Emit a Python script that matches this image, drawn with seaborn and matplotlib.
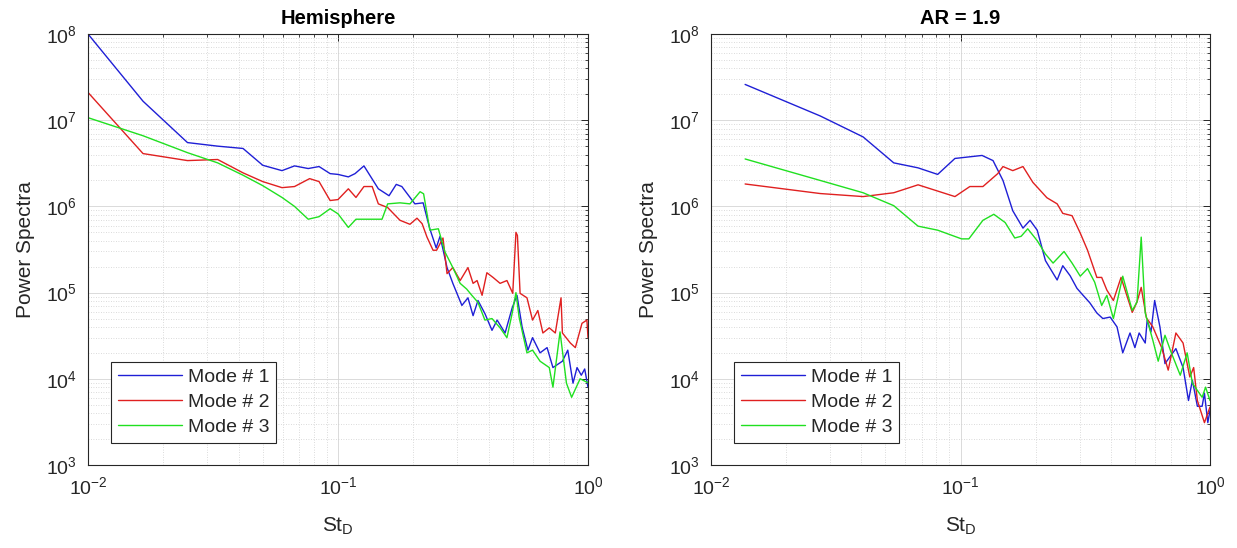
import numpy as np
import pandas as pd
import matplotlib
matplotlib.use("Agg")
import matplotlib.pyplot as plt
import seaborn as sns
from matplotlib.ticker import LogLocator, LogFormatterSciNotation, NullFormatter

# ---------------- data ----------------
titles = ["Hemisphere", "AR = 1.9"]
modes = ["Mode # 1", "Mode # 2", "Mode # 3"]
xlabel = "St$_{\\mathrm{D}}$"
ylabel = "Power Spectra"

# Hemisphere
hemi_m1_x = [0.01, 0.0166, 0.025, 0.033, 0.0417, 0.05, 0.0597, 0.067, 0.076, 0.084, 0.093, 0.1, 0.11, 0.117,
             0.127, 0.145, 0.16, 0.171, 0.18, 0.203, 0.219, 0.233, 0.247, 0.256, 0.273, 0.288, 0.313, 0.331,
             0.347, 0.363, 0.387, 0.413, 0.433, 0.466, 0.497, 0.52, 0.545, 0.575, 0.60, 0.643, 0.686, 0.724,
             0.79, 0.83, 0.871, 0.904, 0.94, 0.97, 1.0]
hemi_m1_y = [1.0e8, 1.66e7, 5.5e6, 5.0e6, 4.7e6, 3.0e6, 2.6e6, 2.95e6, 2.75e6, 2.9e6, 2.4e6, 2.35e6, 2.2e6, 2.4e6,
             2.95e6, 1.6e6, 1.33e6, 1.8e6, 1.7e6, 1.07e6, 1.1e6, 5.5e5, 3.3e5, 4.5e5, 1.95e5, 1.28e5, 7.1e4, 8.7e4,
             5.4e4, 8.1e4, 5.7e4, 3.65e4, 4.8e4, 3.4e4, 6.6e4, 9.3e4, 4.0e4, 2.15e4, 3.0e4, 2.0e4, 2.3e4, 1.35e4,
             1.6e4, 2.15e4, 8.9e3, 1.35e4, 1.1e4, 1.3e4, 8.0e3]

hemi_m2_x = [0.01, 0.0166, 0.025, 0.033, 0.0417, 0.05, 0.0597, 0.067, 0.077, 0.084, 0.093, 0.1, 0.11, 0.118,
             0.127, 0.137, 0.145, 0.158, 0.177, 0.194, 0.207, 0.217, 0.227, 0.24, 0.248, 0.263, 0.273, 0.288,
             0.308, 0.331, 0.347, 0.36, 0.377, 0.394, 0.417, 0.445, 0.474, 0.5, 0.515, 0.522, 0.535, 0.57,
             0.60, 0.63, 0.66, 0.70, 0.74, 0.78, 0.79, 0.85, 0.89, 0.946, 0.99, 1.0]
hemi_m2_y = [2.1e7, 4.1e6, 3.4e6, 3.5e6, 2.45e6, 1.94e6, 1.65e6, 1.7e6, 2.1e6, 1.94e6, 1.17e6, 1.2e6, 1.6e6, 1.27e6,
             1.7e6, 1.7e6, 1.07e6, 9.7e5, 6.9e5, 6.2e5, 7.3e5, 6.3e5, 4.4e5, 3.1e5, 3.1e5, 4.3e5, 1.66e5, 1.95e5,
             1.38e5, 1.95e5, 1.28e5, 1.38e5, 9.3e4, 1.7e5, 1.5e5, 1.28e5, 1.38e5, 9.8e4, 5.0e5, 4.6e5, 9.8e4, 8.7e4,
             4.8e4, 6.2e4, 3.4e4, 3.9e4, 3.4e4, 8.7e4, 3.4e4, 2.6e4, 2.3e4, 4.4e4, 4.8e4, 3.0e4]

hemi_m3_x = [0.01, 0.0166, 0.025, 0.033, 0.0417, 0.05, 0.0597, 0.067, 0.076, 0.084, 0.093, 0.1, 0.11, 0.118,
             0.137, 0.15, 0.158, 0.177, 0.194, 0.213, 0.22, 0.233, 0.252, 0.268, 0.288, 0.308, 0.327, 0.343,
             0.363, 0.387, 0.413, 0.445, 0.474, 0.497, 0.515, 0.53, 0.57, 0.60, 0.643, 0.70, 0.724, 0.773,
             0.82, 0.86, 0.93, 1.0]
hemi_m3_y = [1.07e7, 6.6e6, 4.2e6, 3.2e6, 2.3e6, 1.74e6, 1.27e6, 1.0e6, 7.1e5, 7.6e5, 9.4e5, 8.2e5, 5.7e5, 7.1e5,
             7.1e5, 7.1e5, 1.07e6, 1.1e6, 1.07e6, 1.48e6, 1.4e6, 5.3e5, 5.5e5, 2.95e5, 1.95e5, 1.28e5, 1.1e5, 9.3e4,
             7.7e4, 4.8e4, 5.0e4, 3.9e4, 3.0e4, 5.7e4, 1.0e5, 5.2e4, 2.0e4, 2.15e4, 1.6e4, 1.35e4, 8.0e3, 3.5e4,
             8.9e3, 6.1e3, 1.0e4, 9.0e3]

# AR = 1.9
ar_m1_x = [0.0137, 0.0274, 0.0407, 0.054, 0.0676, 0.081, 0.095, 0.122, 0.135, 0.148, 0.162, 0.178, 0.19, 0.203,
           0.219, 0.244, 0.257, 0.275, 0.293, 0.309, 0.33, 0.352, 0.372, 0.398, 0.424, 0.447, 0.478, 0.50, 0.52,
           0.55, 0.56, 0.58, 0.60, 0.63, 0.66, 0.73, 0.78, 0.82, 0.85, 0.89, 0.93, 0.95, 0.98, 1.0]
ar_m1_y = [2.6e7, 1.12e7, 6.4e6, 3.2e6, 2.8e6, 2.35e6, 3.6e6, 3.9e6, 3.4e6, 2.0e6, 8.9e5, 5.6e5, 6.9e5, 5.3e5,
           2.35e5, 1.4e5, 2.05e5, 1.57e5, 1.12e5, 9.4e4, 7.6e4, 5.8e4, 5.0e4, 5.2e4, 4.0e4, 2.0e4, 3.4e4, 2.3e4, 3.4e4,
           2.6e4, 4.8e4, 3.5e4, 8.1e4, 4.0e4, 1.5e4, 2.24e4, 1.35e4, 5.6e3, 9.6e3, 4.8e3, 4.8e3, 6.8e3, 3.1e3, 4.3e3]

ar_m2_x = [0.0137, 0.0274, 0.0407, 0.054, 0.0676, 0.095, 0.109, 0.123, 0.141, 0.148, 0.162, 0.178, 0.195, 0.222,
           0.244, 0.257, 0.28, 0.302, 0.323, 0.352, 0.368, 0.386, 0.41, 0.44, 0.488, 0.51, 0.53, 0.556, 0.59,
           0.64, 0.68, 0.73, 0.78, 0.83, 0.86, 0.89, 0.95, 1.0]
ar_m2_y = [1.82e6, 1.41e6, 1.3e6, 1.44e6, 1.78e6, 1.3e6, 1.7e6, 1.7e6, 2.4e6, 2.9e6, 2.6e6, 2.9e6, 1.9e6, 1.26e6,
           1.07e6, 8.3e5, 7.8e5, 4.9e5, 3.1e5, 1.5e5, 1.5e5, 1.07e5, 8.1e4, 1.5e5, 5.9e4, 7.8e4, 1.15e5, 5.1e4, 4.0e4,
           2.3e4, 1.26e4, 3.4e4, 2.6e4, 1.05e4, 1.35e4, 5.6e3, 3.1e3, 4.7e3]

ar_m3_x = [0.0137, 0.0274, 0.0407, 0.054, 0.0676, 0.081, 0.101, 0.108, 0.123, 0.136, 0.151, 0.165, 0.175, 0.186,
           0.203, 0.219, 0.235, 0.26, 0.28, 0.302, 0.323, 0.345, 0.368, 0.386, 0.41, 0.447, 0.488, 0.51, 0.53,
           0.55, 0.59, 0.62, 0.66, 0.70, 0.76, 0.81, 0.85, 0.93, 0.96, 1.0]
ar_m3_y = [3.55e6, 2.0e6, 1.44e6, 1.02e6, 5.9e5, 5.3e5, 4.2e5, 4.2e5, 6.9e5, 8.1e5, 6.5e5, 4.3e5, 4.5e5, 5.5e5,
           4.0e5, 2.8e5, 2.2e5, 3.0e5, 2.2e5, 1.55e5, 1.9e5, 1.32e5, 7.1e4, 9.3e4, 5.0e4, 1.55e5, 6.2e4, 7.8e4, 4.4e5,
           5.8e4, 2.8e4, 1.6e4, 3.2e4, 2.0e4, 1.1e4, 2.0e4, 8.9e3, 6.1e3, 8.0e3, 5.6e3]

panels = [
    [(hemi_m1_x, hemi_m1_y), (hemi_m2_x, hemi_m2_y), (hemi_m3_x, hemi_m3_y)],
    [(ar_m1_x, ar_m1_y), (ar_m2_x, ar_m2_y), (ar_m3_x, ar_m3_y)],
]

# ---------------- style ----------------
sns.set_style("white")
plt.rcParams["font.family"] = ["Liberation Sans", "DejaVu Sans"]
plt.rcParams["mathtext.fontset"] = "custom"
plt.rcParams["mathtext.rm"] = "Liberation Sans"
plt.rcParams["mathtext.it"] = "Liberation Sans:italic"
plt.rcParams["mathtext.bf"] = "Liberation Sans:bold"

palette = {"Mode # 1": "#1f1fd6", "Mode # 2": "#e02020", "Mode # 3": "#20e020"}

fig = plt.figure(figsize=(12.37, 5.48), dpi=100)
axes_rects = [[88 / 1237, 83 / 548, 500 / 1237, 431 / 548],
              [711 / 1237, 83 / 548, 499 / 1237, 431 / 548]]

for i, rect in enumerate(axes_rects):
    ax = fig.add_axes(rect)
    rows = []
    for m, (xs, ys) in zip(modes, panels[i]):
        for xv, yv in zip(xs, ys):
            rows.append({"St": xv, "P": yv, "Mode": m})
    df = pd.DataFrame(rows)
    sns.lineplot(data=df, x="St", y="P", hue="Mode", hue_order=modes, palette=palette,
                 ax=ax, linewidth=1.0, sort=True, estimator=None, legend=True)
    ax.set_xscale("log")
    ax.set_yscale("log")
    ax.set_xlim(1e-2, 1e0)
    ax.set_ylim(1e3, 1e8)

    ax.xaxis.set_major_locator(LogLocator(base=10, numticks=10))
    ax.yaxis.set_major_locator(LogLocator(base=10, numticks=10))
    ax.xaxis.set_minor_locator(LogLocator(base=10, subs=np.arange(2, 10), numticks=20))
    ax.yaxis.set_minor_locator(LogLocator(base=10, subs=np.arange(2, 10), numticks=20))
    ax.xaxis.set_major_formatter(LogFormatterSciNotation())
    ax.yaxis.set_major_formatter(LogFormatterSciNotation())
    ax.xaxis.set_minor_formatter(NullFormatter())
    ax.yaxis.set_minor_formatter(NullFormatter())

    ax.grid(True, which="major", color="#d4d4d4", linestyle="-", linewidth=0.6)
    ax.grid(True, which="minor", color="#cfcfcf", linestyle=(0, (1, 2)), linewidth=0.6)
    ax.set_axisbelow(True)

    ax.tick_params(which="both", direction="in", top=True, right=True, colors="#262626",
                   labelcolor="#262626")
    ax.tick_params(which="major", length=5, width=0.7, labelsize=14, pad=8)
    ax.tick_params(which="minor", length=2.5, width=0.6)
    for s in ax.spines.values():
        s.set_color("#262626")
        s.set_linewidth(0.8)

    ax.set_title(titles[i], fontsize=14.5, fontweight="bold", pad=7, color="#000000")
    ax.set_xlabel(xlabel, fontsize=15, color="#262626", labelpad=13)
    ax.set_ylabel(ylabel, fontsize=15, color="#262626", labelpad=8)

    handles, labels = ax.get_legend_handles_labels()
    leg = ax.legend(handles, labels, loc="lower left", bbox_to_anchor=(0.046, 0.051),
                    borderaxespad=0, fontsize=14, frameon=True, fancybox=False,
                    handlelength=3.3, handletextpad=0.3, labelspacing=0.38,
                    borderpad=0.35)
    leg.get_frame().set_edgecolor("#262626")
    leg.get_frame().set_linewidth(0.8)
    leg.get_frame().set_alpha(1.0)
    for line in leg.get_lines():
        line.set_linewidth(1.0)

fig.savefig("out.png", dpi=100, facecolor="white")
